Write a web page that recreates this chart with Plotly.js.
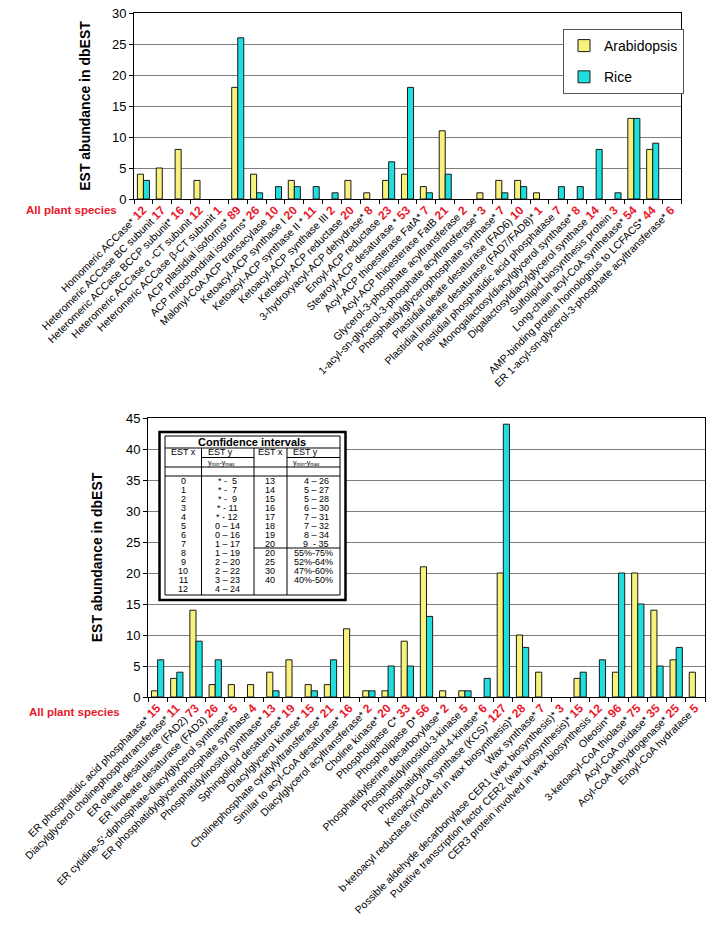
<!DOCTYPE html>
<html><head><meta charset="utf-8">
<script src="https://cdn.plot.ly/plotly-3.0.1.min.js"></script>
<style>html,body{margin:0;padding:0;background:#fff}#chart{width:711px;height:935px}</style>
</head><body><div id="chart"></div>
<script>
// ---------- Top chart data ----------
const topCats = [
 "Homomeric ACCase*","Heteromeric ACCase BC subunit","Heteromeric ACCase BCCP subunit*",
 "Heteromeric ACCase α -CT subunit","Heteromeric ACCase β-CT subunit","ACP plastidial isoforms*",
 "ACP mitochondrial isoforms*","Malonyl-CoA:ACP transacylase","Ketoacyl-ACP synthase I",
 "Ketoacyl-ACP synthase II *","Ketoacyl-ACP synthase III","Ketoacyl-ACP reductase",
 "3-hydroxyacyl-ACP dehydrase*","Enoyl-ACP reductase","Stearoyl-ACP desaturase *",
 "Acyl-ACP thioesterase FatA*","Acyl-ACP thioesterase FatB","Glycerol-3-phosphate acyltransferase",
 "1-acyl-sn-glycerol-3-phosphate acyltransferase*","Phosphatidylglycerophosphate synthase*",
 "Plastidial oleate desaturase (FAD6)","Plastidial linoleate desaturase (FAD7/FAD8)*",
 "Plastidial phosphatidic acid phosphatase","Monogalactosyldiacylglycerol synthase*",
 "Digalactosyldiacylglycerol synthase","Sulfolipid biosynthesis protein",
 "Long-chain acyl-CoA synthetase*","AMP-binding protein homologous to LCFACS*",
 "ER 1-acyl-sn-glycerol-3-phosphate acyltransferase*"];
const topAllSpecies = [12,17,16,12,1,89,26,10,20,11,2,20,8,23,53,7,21,2,3,7,10,1,7,8,14,3,54,44,6];
const topArabidopsis = [4,5,8,3,0,18,4,0,3,0,0,3,1,3,4,2,11,0,1,3,3,1,0,0,0,0,13,8,0];
const topRice        = [3,0,0,0,0,26,1,2,2,2,1,0,0,6,18,1,4,0,0,1,2,0,2,2,8,1,13,9,0];

// ---------- Bottom chart data ----------
const botCats = [
 "ER phosphatidic acid phosphatase*","Diacylglycerol cholinephosphotransferase*",
 "ER oleate desaturase (FAD2)","ER linoleate desaturase (FAD3)",
 "ER cytidine-5'-diphosphate-diacylglycerol synthase*","ER phosphatidylglycerophosphate synthase",
 "Phosphatidylinositol synthase*","Sphingolipid desaturase*","Diacylglycerol kinase*",
 "Cholinephosphate cytidylyltransferase*","Similar to acyl-CoA desaturase*",
 "Diacylglycerol acyltransferase*","Choline kinase*","Phospholipase C*","Phospholipase D*",
 "Phosphatidylserine decarboxylase*","Phosphatidylinositol-3-kinase","Phosphatidylinositol-4-kinase*",
 "Ketoacyl-CoA synthase (KCS)*","b-ketoacyl reductase (involved in wax biosynthesis)*",
 "Wax synthase*","Possible aldehyde decarbonylase CER1 (wax biosynthesis)*",
 "Putative transcription factor CER2 (wax biosynthesis)*","CER3 protein involved in wax biosynthesis",
 "Oleosin*","3-ketoacyl-CoA thiolase*","Acyl-CoA oxidase*","Acyl-CoA dehydrogenase*","Enoyl-CoA hydratase"];
const botAllSpecies = [15,11,73,26,5,4,13,19,15,21,16,2,20,33,56,2,5,6,127,28,7,3,15,12,96,75,35,25,5];
const botArabidopsis = [1,3,14,2,2,2,4,6,2,2,11,1,1,9,21,1,1,0,20,10,4,0,3,0,4,20,14,6,4];
const botRice        = [6,4,9,6,0,0,1,0,1,6,0,1,5,5,13,0,1,3,44,8,0,0,4,6,20,15,5,8,0];

// ---------- Confidence interval table ----------
const ciX1 = ["0","1","2","3","4","5","6","7","8","9","10","11","12"];
const ciY1 = ["* -  5","* -  7","* -  9","* - 11","* - 12","0 – 14","0 – 16","1 – 17","1 – 19","2 – 20","2 – 22","3 – 23","4 – 24"];
const ciX2 = ["13","14","15","16","17","18","19","20"];
const ciY2 = ["4 – 26","5 – 27","5 – 28","6 – 30","7 – 31","7 – 32","8 – 34","9  - 35"];
const ciX3 = ["20","25","30","40"];
const ciY3 = ["55%-75%","52%-64%","47%-60%","40%-50%"];

// ---------- helpers ----------
const W = 711, H = 935;
const px = x => x / W, py = y => 1 - y / H;
const RED = '#e8192c', YEL = '#f7f27c', CYN = '#1fdede', EDGE = '#1a1a1a';
const FONT = 'Liberation Sans, Arial, sans-serif';
const nz = a => a.map(v => v === 0 ? null : v);
const tickText = (cats, tot) => cats.map((c, i) => c + ' <span style="color:' + RED + ';font-size:12px"><b>' + tot[i] + '</b></span>');

function bar(x, y, name, color, xa, ya, show) {
  return {type: 'bar', x: x, y: nz(y), name: name, xaxis: xa, yaxis: ya,
    marker: {color: color, line: {color: EDGE, width: 1}},
    showlegend: show, legendgroup: name, hoverinfo: 'x+y'};
}
const data = [
  bar(topCats, topArabidopsis, 'Arabidopsis', YEL, 'x', 'y', true),
  bar(topCats, topRice, 'Rice', CYN, 'x', 'y', true),
  bar(botCats, botArabidopsis, 'Arabidopsis', YEL, 'x2', 'y2', false),
  bar(botCats, botRice, 'Rice', CYN, 'x2', 'y2', false)
];

function xAxis(dom, anchor, cats, tot) {
  return {domain: dom, anchor: anchor, type: 'category', tickmode: 'array', tickvals: cats,
    ticktext: tickText(cats, tot), tickangle: -45, tickson: 'boundaries', ticks: 'outside',
    ticklen: 4, tickcolor: '#000', showline: true, linecolor: '#000', linewidth: 1, mirror: true,
    showgrid: false, zeroline: false, tickfont: {size: 10.5, color: '#000'}, automargin: false, fixedrange: true};
}
function yAxis(dom, anchor, max, standoff) {
  return {domain: dom, anchor: anchor, range: [0, max], dtick: 5, ticks: 'outside', ticklen: 4,
    tickcolor: '#000', showline: true, linecolor: '#000', linewidth: 1, mirror: true,
    showgrid: true, gridcolor: '#7f7f7f', gridwidth: 1, zeroline: false,
    tickfont: {size: 13, color: '#000'}, automargin: false, fixedrange: true,
    title: {text: '<b>EST abundance in dbEST</b>', font: {size: 14, color: '#000'}, standoff: standoff}};
}

// table shapes & text
const shapes = [];
const ann = [];
function rect(x0, y0, x1, y1, w, fill) {
  shapes.push({type: 'rect', xref: 'paper', yref: 'paper', x0: px(x0), x1: px(x1), y0: py(y1), y1: py(y0),
    line: {color: '#000', width: w}, fillcolor: fill || 'rgba(0,0,0,0)', layer: 'above'});
}
function line(x0, y0, x1, y1, w) {
  shapes.push({type: 'line', xref: 'paper', yref: 'paper', x0: px(x0), x1: px(x1), y0: py(y0), y1: py(y1),
    line: {color: '#000', width: w || 1}, layer: 'above'});
}
function txt(t, x, y, size, anchor, color, bold) {
  ann.push({text: bold ? '<b>' + t + '</b>' : t, x: px(x), y: py(y), xref: 'paper', yref: 'paper',
    showarrow: false, xanchor: anchor || 'center', yanchor: 'middle',
    font: {size: size, color: color || '#000', family: FONT}});
}
rect(159.5, 432, 345.5, 600, 2.5, '#fff');
rect(165, 436, 340, 595, 1);
line(165, 448, 340, 448);
line(201.5, 448, 201.5, 595); line(254, 448, 254, 595); line(287, 448, 287, 595);
line(201.5, 457.5, 254, 457.5); line(287, 457.5, 340, 457.5);
line(165, 467, 340, 467); line(165, 476, 340, 476);
line(254, 548, 340, 548);
txt('Confidence intervals', 252, 442, 11, 'center', '#000', true);
txt('EST x', 183, 452.5, 9); txt('EST y', 206, 452.5, 9, 'left');
txt('EST x', 270, 452.5, 9); txt('EST y', 291, 452.5, 9, 'left');
txt('y<sub>min</sub>-y<sub>max</sub>', 206, 462.5, 7, 'left');
txt('y<sub>min</sub>-y<sub>max</sub>', 291, 462.5, 7, 'left');
const ROW0 = 481, ROWH = 9.03;
ciX1.forEach((v, i) => { txt(v, 183, ROW0 + i * ROWH, 9); txt(ciY1[i], 227, ROW0 + i * ROWH, 9); });
ciX2.forEach((v, i) => { txt(v, 270, ROW0 + i * ROWH, 9); txt(ciY2[i], 316, ROW0 + i * ROWH, 9); });
ciX3.forEach((v, i) => { const k = ciX2.length + i; txt(v, 270, ROW0 + k * ROWH, 9); txt(ciY3[i], 292, ROW0 + k * ROWH, 9, 'left'); });

// "All plant species" labels
txt('All plant species', 71, 210, 11.5, 'center', RED, true);
txt('All plant species', 74, 712, 11.5, 'center', RED, true);

const layout = {
  width: W, height: H, margin: {l: 0, r: 0, t: 0, b: 0},
  paper_bgcolor: '#fff', plot_bgcolor: '#fff',
  font: {family: FONT, color: '#000'},
  barmode: 'group', bargap: 0.36, bargroupgap: 0,
  showlegend: true,
  legend: {x: px(563), y: py(29), xanchor: 'left', yanchor: 'top', bgcolor: '#fff',
    bordercolor: '#555', borderwidth: 1, font: {size: 14, color: '#000'}, tracegroupgap: 10},
  xaxis: xAxis([px(134), px(681)], 'y', topCats, topAllSpecies),
  yaxis: yAxis([py(199), py(13)], 'x', 30, 18),
  xaxis2: xAxis([px(148), px(705)], 'y2', botCats, botAllSpecies),
  yaxis2: yAxis([py(697), py(418)], 'x2', 45, 20),
  shapes: shapes, annotations: ann
};
Plotly.newPlot('chart', data, layout, {displayModeBar: false, responsive: false});
</script>
</body></html>
